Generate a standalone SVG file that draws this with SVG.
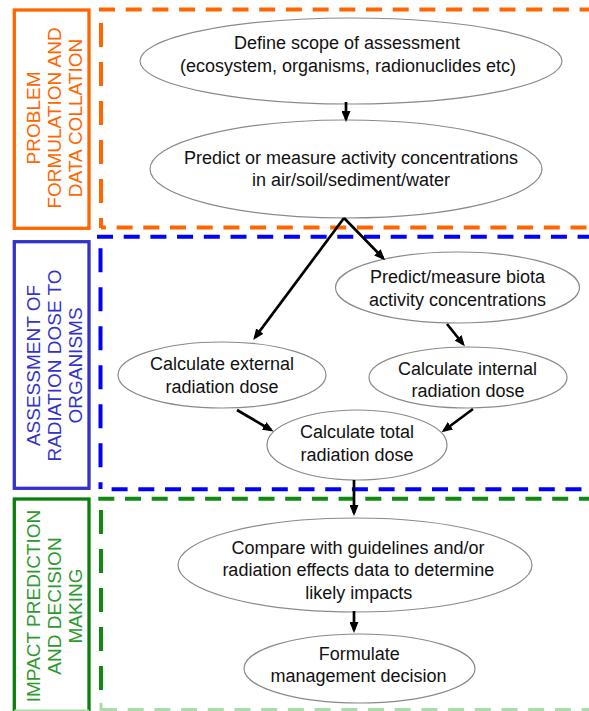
<svg xmlns="http://www.w3.org/2000/svg" width="589" height="711" viewBox="0 0 589 711">
<defs>
<style>
.node ellipse{fill:#fff;stroke:#8a8a8a;stroke-width:1.2}
.node text{font-family:"Liberation Sans",Arial,sans-serif;font-size:18px;fill:#111;text-anchor:middle}
.lbl text{font-family:"Liberation Sans",Arial,sans-serif;font-size:19px;text-anchor:middle}
.lbl rect{fill:none;stroke-width:3.3}
.dh{fill:none;stroke-width:4;stroke-dasharray:16 10.7}
.dv{fill:none;stroke-width:4;stroke-dasharray:24 15}
.conn line{stroke:#000;stroke-width:2.7;marker-end:url(#ah)}
</style>
<marker id="ah" markerUnits="userSpaceOnUse" markerWidth="11" markerHeight="9" viewBox="0 0 11 9" refX="8" refY="4.5" orient="auto">
<path d="M0,0 L11,4.5 L0,9 z" fill="#000"/>
</marker>
</defs>
<rect width="589" height="711" fill="#fff"/>

<!-- section: problem formulation -->
<g id="sec-problem">
<line class="dh" x1="99" y1="9.5" x2="589" y2="9.5" stroke="#FF6600"/>
<line class="dv" x1="101" y1="9.5" x2="101" y2="228" stroke="#FF6600" stroke-dashoffset="25.5"/>
<line class="dh" x1="101" y1="227.5" x2="589" y2="227.5" stroke="#FF6600" stroke-dasharray="15.5 11.3" stroke-dashoffset="11.1"/>
</g>
<g id="lbl-problem" class="lbl">
<rect x="14.3" y="10" width="74.7" height="218.3" stroke="#FF6600"/>
<g fill="#FF6600" transform="rotate(-90)">
<text x="-118" y="40">PROBLEM</text>
<text x="-118" y="61">FORMULATION AND</text>
<text x="-118" y="82">DATA COLLATION</text>
</g>
</g>

<!-- section: assessment -->
<g id="sec-assessment">
<line class="dh" x1="97" y1="236.7" x2="589" y2="236.7" stroke="#0000FF"/>
<line class="dv" x1="100.5" y1="237" x2="100.5" y2="489" stroke="#0000FF" stroke-dashoffset="27.7"/>
<line class="dh" x1="101" y1="489.3" x2="589" y2="489.3" stroke="#0000FF" stroke-dasharray="15.6 11.2" stroke-dashoffset="16.1"/>
</g>
<g id="lbl-assessment" class="lbl">
<rect x="14.3" y="241.7" width="74.7" height="246.6" stroke="#3333CC"/>
<g fill="#3333CC" transform="rotate(-90)">
<text x="-365.5" y="40">ASSESSMENT OF</text>
<text x="-365.5" y="61">RADIATION DOSE TO</text>
<text x="-365.5" y="82">ORGANISMS</text>
</g>
</g>

<!-- section: impact -->
<g id="sec-impact">
<line class="dh" x1="98.3" y1="498.7" x2="589" y2="498.7" stroke="#108A10"/>
<line class="dv" x1="101" y1="499" x2="101" y2="700" stroke="#108A10" stroke-dashoffset="28"/>
<line class="dh" x1="101" y1="710" x2="589" y2="710" stroke="#A8DCA8" stroke-width="3"/>
<line x1="101" y1="703" x2="101" y2="711" stroke="#A8DCA8" stroke-width="3"/>
</g>
<g id="lbl-impact" class="lbl">
<rect x="14.3" y="499" width="74.7" height="213" stroke="#0B7F0B"/>
<line x1="14.3" y1="710.5" x2="89" y2="710.5" stroke="#A8DCA8" stroke-width="2"/>
<g fill="#2E9A2E" transform="rotate(-90)">
<text x="-606" y="40">IMPACT PREDICTION</text>
<text x="-606" y="61">AND DECISION</text>
<text x="-606" y="82">MAKING</text>
</g>
</g>

<!-- nodes -->
<g id="n-scope" class="node">
<ellipse cx="351" cy="61" rx="211" ry="43"/>
<text x="347" y="49">Define scope of assessment</text>
<text x="348" y="71.5">(ecosystem, organisms, radionuclides etc)</text>
</g>
<g id="n-predict-env" class="node">
<ellipse cx="346" cy="169" rx="196" ry="49"/>
<text x="351" y="163.5">Predict or measure activity concentrations</text>
<text x="351" y="186">in air/soil/sediment/water</text>
</g>
<g id="n-biota" class="node">
<ellipse cx="457.5" cy="287.5" rx="122" ry="35.5"/>
<text x="457.5" y="283">Predict/measure biota</text>
<text x="457.5" y="305.5">activity concentrations</text>
</g>
<g id="n-external" class="node">
<ellipse cx="222" cy="375" rx="104" ry="33"/>
<text x="222" y="370">Calculate external</text>
<text x="222" y="392.5">radiation dose</text>
</g>
<g id="n-internal" class="node">
<ellipse cx="468" cy="377.5" rx="99" ry="30.5"/>
<text x="467.5" y="374.5">Calculate internal</text>
<text x="468" y="397">radiation dose</text>
</g>
<g id="n-total" class="node">
<ellipse cx="357" cy="445" rx="90" ry="35"/>
<text x="357" y="437.5">Calculate total</text>
<text x="357" y="460.5">radiation dose</text>
</g>
<g id="n-compare" class="node">
<ellipse cx="355" cy="565" rx="177" ry="47"/>
<text x="358" y="553.5">Compare with guidelines and/or</text>
<text x="358.3" y="576">radiation effects data to determine</text>
<text x="358.8" y="598.5">likely impacts</text>
</g>
<g id="n-decision" class="node">
<ellipse cx="359.5" cy="668.5" rx="115.5" ry="34.5"/>
<text x="359.3" y="659.5">Formulate</text>
<text x="358.5" y="682.3">management decision</text>
</g>

<!-- connectors -->
<g id="connectors" class="conn">
<line x1="346" y1="102" x2="346" y2="119"/>
<line x1="344" y1="218" x2="255" y2="337.5"/>
<line x1="344" y1="218" x2="383" y2="258"/>
<line x1="447" y1="324" x2="463" y2="344"/>
<line x1="237" y1="410" x2="271" y2="430"/>
<line x1="473" y1="409" x2="444" y2="430.5"/>
<line x1="354" y1="480" x2="354" y2="513"/>
<line x1="354" y1="611" x2="354" y2="630"/>
</g>
</svg>
